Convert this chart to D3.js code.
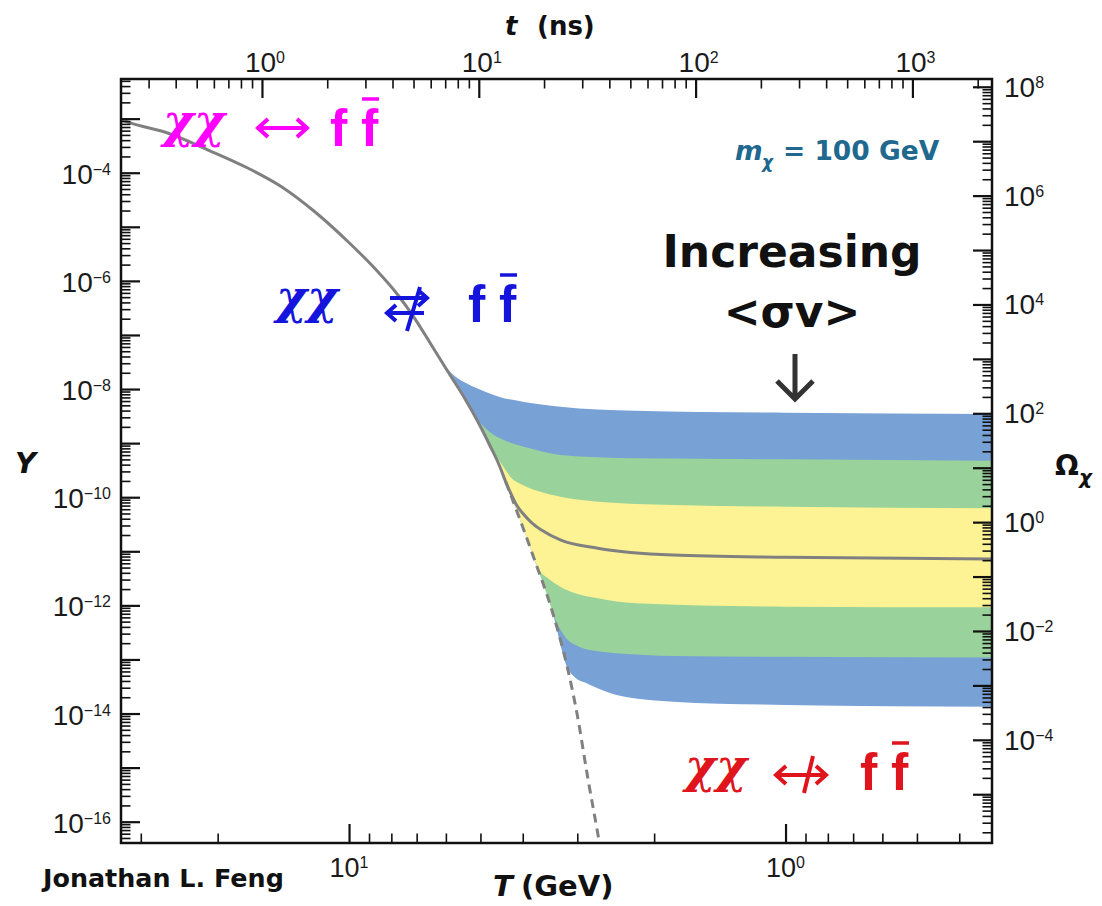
<!DOCTYPE html>
<html><head><meta charset="utf-8">
<script src="https://cdn.jsdelivr.net/npm/d3@7"></script>
<style>body{margin:0;background:#fff}svg{display:block}</style>
</head><body>
<svg id="chart" width="1102" height="906"></svg>
<script>
// ---------------- DATA ----------------
// Equilibrium abundance Y_eq vs temperature T (GeV)
const equilibriumT = [33.3, 31.8, 25.95, 21.02, 17.02, 14.28, 11.98, 10.05, 8.735, 7.726, 7.074, 6.477, 5.935, 5.435, 4.977, 4.764, 4.520, 4.244, 3.779, 3.420, 3.159, 2.997, 2.843, 2.669, 2.628];
const equilibriumY = [9.64e-4, 8.41e-4, 5.36e-4, 2.63e-4, 1.21e-4, 5.52e-5, 1.90e-5, 5.30e-6, 1.71e-6, 5.48e-7, 2.03e-7, 6.52e-8, 2.09e-8, 6.75e-9, 1.88e-9, 9.23e-10, 3.78e-10, 1.01e-10, 7.83e-12, 7.53e-13, 6.95e-14, 9.0e-15, 7.0e-16, 4.04e-17, 1.95e-17];

// Freeze-out curves (after leaving equilibrium), from smallest to largest <σv>
const blueTopT = [6.477, 6.200, 5.944, 5.669, 5.384, 4.877, 4.520, 4.000, 3.281, 2.208, 1.000, 0.3365];
const blueTopY = [6.52e-8, 3.83e-8, 2.35e-8, 1.63e-8, 1.28e-8, 8.93e-9, 7.13e-9, 5.83e-9, 4.71e-9, 3.97e-9, 3.65e-9, 3.45e-9];
const greenTopT = [5.350, 5.022, 4.764, 4.520, 4.178, 3.759, 3.281, 2.208, 1.000, 0.3365];
const greenTopY = [5.28e-9, 2.46e-9, 1.61e-9, 1.24e-9, 9.64e-10, 7.62e-10, 6.03e-10, 5.24e-10, 5.02e-10, 4.73e-10];
const yellowTopT = [4.715, 4.520, 4.222, 4.000, 3.661, 3.281, 2.692, 1.812, 1.000, 0.3365];
const yellowTopY = [7.72e-10, 4.67e-10, 2.17e-10, 1.68e-10, 1.27e-10, 1.02e-10, 8.26e-11, 7.18e-11, 6.67e-11, 6.24e-11];
const centralT = [4.379, 4.244, 4.133, 4.000, 3.819, 3.623, 3.281, 2.692, 1.812, 1.000, 0.3365];
const centralY = [1.95e-10, 1.10e-10, 7.18e-11, 5.04e-11, 3.40e-11, 2.47e-11, 1.62e-11, 1.14e-11, 8.53e-12, 7.74e-12, 7.19e-12];
const yellowBottomT = [3.779, 3.661, 3.510, 3.281, 3.044, 2.692, 2.208, 1.000, 0.3365];
const yellowBottomY = [7.83e-12, 4.41e-12, 3.21e-12, 2.21e-12, 1.69e-12, 1.35e-12, 1.09e-12, 9.44e-13, 9.20e-13];
const greenBottomT = [3.420, 3.295, 3.209, 2.972, 2.669, 2.439, 1.812, 1.000, 0.3365];
const greenBottomY = [7.53e-13, 3.81e-13, 2.71e-13, 1.72e-13, 1.40e-13, 1.30e-13, 1.16e-13, 1.12e-13, 1.09e-13];
const blueBottomT = [3.159, 3.044, 2.856, 2.669, 2.439, 1.812, 1.000, 0.3365];
const blueBottomY = [6.95e-14, 4.73e-14, 3.62e-14, 2.84e-14, 2.20e-14, 1.66e-14, 1.44e-14, 1.34e-14];

// Tick label exponents
const leftTickExp = [-4, -6, -8, -10, -12, -14, -16];
const rightTickExp = [8, 6, 4, 2, 0, -2, -4];
const topTickExp = [0, 1, 2, 3];
const bottomTickExp = [1, 0];

// ---------------- LAYOUT ----------------
const plot = {left: 121, right: 992, top: 79, bottom: 843};
const domT = [33.3, 0.3365];
const domTime = [0.2238, 2328];
const domY = [Math.pow(10, -16.394), Math.pow(10, -2.267)];
const domOmega = [Math.pow(10, -5.896), Math.pow(10, 8.143)];
const colors = {blue: "#78a1d6", green: "#99d29b", yellow: "#fdf394", gray: "#808080"};

const svg = d3.select("#chart");
svg.append("rect").attr("width", 1102).attr("height", 906).attr("fill", "#fff");

const x = d3.scaleLog().domain(domT).range([plot.left, plot.right]);
const xTop = d3.scaleLog().domain(domTime).range([plot.left, plot.right]);
const y = d3.scaleLog().domain(domY).range([plot.bottom, plot.top]);
const yR = d3.scaleLog().domain(domOmega).range([plot.bottom, plot.top]);

const pts = (T, Y) => T.map((t, i) => ({T: t, Y: Y[i]}));
const eqPts = pts(equilibriumT, equilibriumY);
const full = (T, Y) => eqPts.filter(p => p.T > T[0] + 1e-9).concat(pts(T, Y));

svg.append("clipPath").attr("id", "clip").append("rect")
  .attr("x", plot.left).attr("y", plot.top)
  .attr("width", plot.right - plot.left).attr("height", plot.bottom - plot.top);

const gPlot = svg.append("g").attr("clip-path", "url(#clip)");
const area = d3.area().x(d => x(d.T)).y0(plot.bottom + 50).y1(d => y(d.Y)).curve(d3.curveMonotoneX);
const line = d3.line().x(d => x(d.T)).y(d => y(d.Y)).curve(d3.curveMonotoneX);

const bands = [
  [blueTopT, blueTopY, colors.blue],
  [greenTopT, greenTopY, colors.green],
  [yellowTopT, yellowTopY, colors.yellow],
  [centralT, centralY, colors.yellow],
  [yellowBottomT, yellowBottomY, colors.green],
  [greenBottomT, greenBottomY, colors.blue],
  [blueBottomT, blueBottomY, "#ffffff"]
];
bands.forEach(([T, Y, c]) => {
  gPlot.append("path").attr("d", area(full(T, Y))).attr("fill", c);
});

// dashed equilibrium continuation
const dashPts = [{T: centralT[0], Y: centralY[0]}].concat(eqPts.filter(p => p.T < centralT[0]));
gPlot.append("path").attr("d", line(dashPts)).attr("fill", "none")
  .attr("stroke", colors.gray).attr("stroke-width", 3).attr("stroke-dasharray", "9,6");
// solid curve
gPlot.append("path").attr("d", line(full(centralT, centralY))).attr("fill", "none")
  .attr("stroke", colors.gray).attr("stroke-width", 3);

// ---------------- AXES ----------------
function minorTicks(scale) {
  const [a, b] = d3.extent(scale.domain());
  const out = [];
  for (let n = Math.floor(Math.log10(a)) - 1; n <= Math.ceil(Math.log10(b)); n++) {
    for (let k = 2; k <= 9; k++) { const v = k * Math.pow(10, n); if (v > a && v < b) out.push(v); }
  }
  return out;
}
function majorTicks(scale) {
  const [a, b] = d3.extent(scale.domain());
  const out = [];
  for (let n = Math.ceil(Math.log10(a)); n <= Math.floor(Math.log10(b)); n++) out.push(Math.pow(10, n));
  return out;
}
function drawAxis(gen, scale, transform) {
  [[majorTicks(scale), 19, 2.2], [minorTicks(scale), 9.5, 1.6]].forEach(([vals, size, w]) => {
    const g = svg.append("g").attr("transform", transform)
      .call(gen(scale).tickValues(vals).tickSize(size).tickFormat(""));
    g.select(".domain").remove();
    g.selectAll("line").attr("stroke", "#111").attr("stroke-width", w);
  });
}
drawAxis(d3.axisRight, y, `translate(${plot.left},0)`);
drawAxis(d3.axisLeft, yR, `translate(${plot.right},0)`);
drawAxis(d3.axisBottom, xTop, `translate(0,${plot.top})`);
drawAxis(d3.axisTop, x, `translate(0,${plot.bottom})`);

svg.append("rect").attr("x", plot.left).attr("y", plot.top)
  .attr("width", plot.right - plot.left).attr("height", plot.bottom - plot.top)
  .attr("fill", "none").attr("stroke", "#111").attr("stroke-width", 2.5);

const expStr = e => (e < 0 ? "\u2212" + Math.abs(e) : String(e));
function powLabel(px, py, e, anchor, size, sup, raise) {
  const t = svg.append("text").attr("x", px).attr("y", py).attr("text-anchor", anchor)
    .attr("font-family", "Liberation Sans, Arial, sans-serif").attr("font-size", size).attr("fill", "#1a1a1a");
  t.append("tspan").text("10");
  t.append("tspan").attr("font-size", sup).attr("dy", -raise).text(expStr(e));
}
leftTickExp.forEach(e => powLabel(111, y(Math.pow(10, e)) + 11, e, "end", 28, 16, 9));
rightTickExp.forEach(e => powLabel(1004, yR(Math.pow(10, e)) + 10, e, "start", 28, 16, 9));
topTickExp.forEach(e => powLabel(xTop(Math.pow(10, e)) + 3, 72, e, "middle", 28, 16, 9));
bottomTickExp.forEach(e => powLabel(x(Math.pow(10, e)), 877, e, "middle", 27, 16, 9));

// ---------------- TITLES ----------------
const bold = "DejaVu Sans, Verdana, sans-serif";
function txt(px, py, s, size, opts = {}) {
  return svg.append("text").attr("x", px).attr("y", py).attr("font-family", opts.family || bold)
    .attr("font-weight", opts.weight || "bold").attr("font-style", opts.style || "normal")
    .attr("font-size", size).attr("fill", opts.fill || "#111")
    .attr("text-anchor", opts.anchor || "start").text(s);
}
txt(505, 35, "t", 26, {style: "italic"});
txt(537, 35, "(ns)", 26);
txt(493, 896, "T", 29, {style: "italic"});
txt(521, 896, "(GeV)", 29);
txt(15, 473, "Y", 29, {style: "italic"});
txt(1055, 475, "\u03A9", 28);
txt(1079, 484, "\u03C7", 20, {style: "italic"});
txt(43, 887, "Jonathan L. Feng", 25.4);

// m_chi label
const mcol = "#21688f";
txt(735, 160, "m", 26.5, {style: "italic", fill: mcol});
txt(762, 168, "\u03C7", 17, {style: "italic", fill: mcol});
txt(783, 160, "= 100 GeV", 26.5, {fill: mcol});

// Increasing <σv>
txt(792, 267, "Increasing", 44, {anchor: "middle"});
txt(792, 327, "<\u03C3v>", 44, {anchor: "middle"});
svg.append("path").attr("d", "M795,354 L795,398 M777,381 L795,399 L813,381")
  .attr("fill", "none").attr("stroke", "#333").attr("stroke-width", 5);

// process labels
const sansBold = "Liberation Sans, Arial, sans-serif";
function process(col, chiX, chiY, fX, fY, arrowD) {
  txt(chiX, chiY, "\u03C7\u03C7", 47, {family: "DejaVu Serif, serif", style: "italic", weight: "bold", fill: col});
  txt(fX, fY, "f", 52, {family: sansBold, fill: col});
  txt(fX + 31, fY, "f", 52, {family: sansBold, fill: col});
  svg.append("line").attr("x1", fX + 32).attr("x2", fX + 49).attr("y1", fY - 47).attr("y2", fY - 47)
    .attr("stroke", col).attr("stroke-width", 3.5);
  svg.append("path").attr("d", arrowD).attr("fill", "none").attr("stroke", col)
    .attr("stroke-width", 4).attr("stroke-linejoin", "miter");
}
process("#ff00ff", 163, 137, 330, 146,
  "M258,128 L307,128 M268,119 L258,128 L268,137 M297,119 L307,128 L297,137");
process("#1414dc", 276, 313, 468, 322,
  "M390,298 L427,298 M418,290 L427,298 L418,306 M387,313 L424,313 M396,305 L387,313 L396,321 M420,287 L407,331");
process("#e0141c", 685, 782, 860, 790,
  "M776,775 L826,775 M786,766 L776,775 L786,784 M816,766 L826,775 L816,784 M813,756 L804,793");
</script>
</body></html>
